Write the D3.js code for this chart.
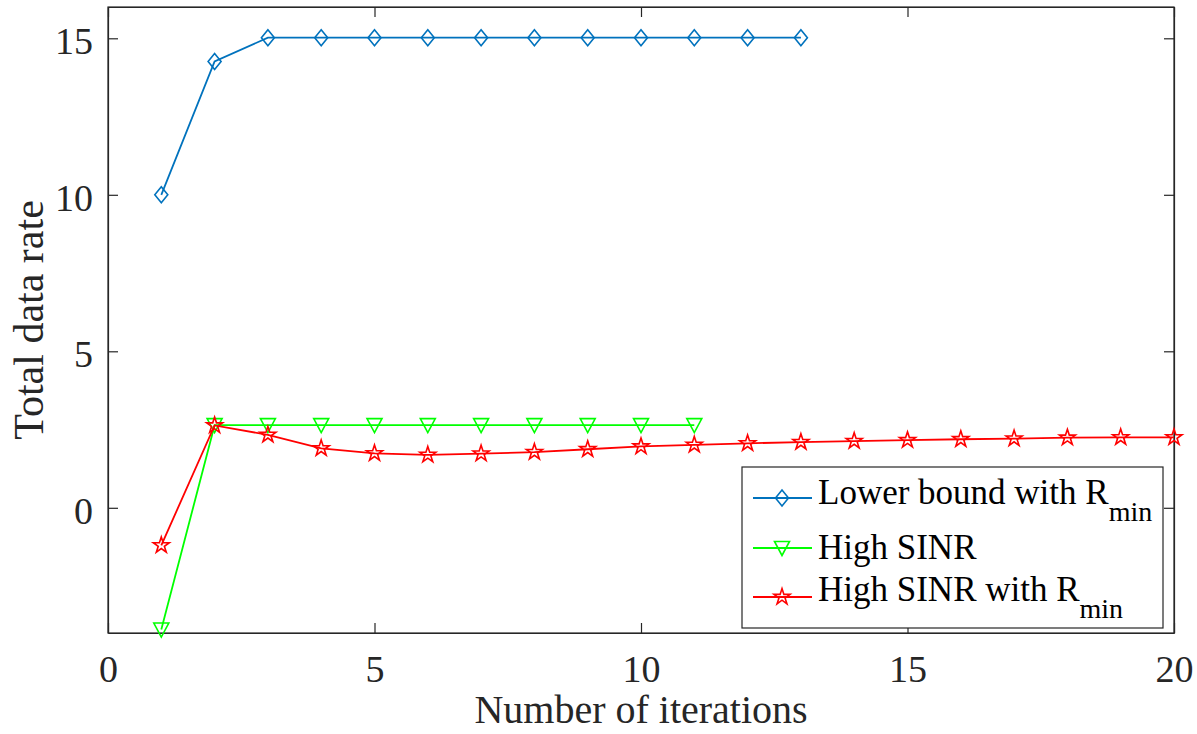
<!DOCTYPE html>
<html>
<head>
<meta charset="utf-8">
<script src="https://cdn.jsdelivr.net/npm/d3@7"></script>
<style>
  body { margin: 0; background: #fff; }
  svg { display: block; }
</style>
</head>
<body>
<div class="canvas"></div>
<script>
// data
var iterBound = [1,2,3,4,5,6,7,8,9,10,11,12,13];
var rateBound = [10.0,14.26,15.02,15.02,15.02,15.02,15.02,15.02,15.02,15.02,15.02,15.02,15.02];

var iterHigh = [1,2,3,4,5,6,7,8,9,10,11];
var rateHigh = [-3.89,2.64,2.64,2.64,2.64,2.64,2.64,2.64,2.64,2.64,2.64];

var iterHighR = [1,2,3,4,5,6,7,8,9,10,11,12,13,14,15,16,17,18,19,20];
var rateHighR = [-1.2,2.63,2.33,1.90,1.74,1.69,1.73,1.78,1.87,1.96,2.01,2.06,2.10,2.13,2.16,2.19,2.21,2.24,2.25,2.25];

var xTicks = [0,5,10,15,20];
var yTicks = [0,5,10,15];
var seriesNames = ["Lower bound with R", "High SINR", "High SINR with R"];
var seriesSubs = ["min", "", "min"];

var W = 1197, H = 734;
var pLeft = 108, pRight = 1174, pTop = 7, pBottom = 633;
var axisCol = "#262626";
var font = "'Liberation Serif', 'Times New Roman', serif";

const svg = d3.select(".canvas").append("svg")
    .attr("width", W)
    .attr("height", H);

var x = d3.scaleLinear().domain([0,20]).range([pLeft,pRight]);
var y = d3.scaleLinear().domain([-4,16]).range([pBottom,pTop]);

// custom MATLAB-ish markers
var diamond = { draw: function(ctx, size) {
    var w = 6.5, h = 8;
    ctx.moveTo(0,-h); ctx.lineTo(w,0); ctx.lineTo(0,h); ctx.lineTo(-w,0); ctx.closePath();
}};
var triDown = { draw: function(ctx, size) {
    var w = 7.5, h = 6.5;
    ctx.moveTo(-w,-h); ctx.lineTo(w,-h); ctx.lineTo(0,h+1); ctx.closePath();
}};

var series = [
  { xs: iterBound, ys: rateBound, color: "#0072BD", sym: d3.symbol().type(diamond)() },
  { xs: iterHigh, ys: rateHigh, color: "#00FF00", sym: d3.symbol().type(triDown)() },
  { xs: iterHighR, ys: rateHighR, color: "#FF0000", sym: d3.symbol().type(d3.symbolStar).size(80)() }
];

// box + ticks
svg.append("rect")
    .attr("x", pLeft).attr("y", pTop)
    .attr("width", pRight-pLeft).attr("height", pBottom-pTop)
    .attr("fill", "white").attr("stroke", axisCol).attr("stroke-width", 1.2);

var xAxis = svg.append("g")
    .attr("transform", "translate(0," + pBottom + ")")
    .call(d3.axisBottom(x).tickValues(xTicks).tickSizeInner(-10).tickSizeOuter(0).tickPadding(22));
var yAxis = svg.append("g")
    .attr("transform", "translate(" + pLeft + ",0)")
    .call(d3.axisLeft(y).tickValues(yTicks).tickSizeInner(-10).tickSizeOuter(0).tickPadding(15));
svg.append("g")
    .attr("transform", "translate(0," + pTop + ")")
    .call(d3.axisTop(x).tickValues(xTicks).tickSizeInner(-10).tickSizeOuter(0).tickFormat(""));
svg.append("g")
    .attr("transform", "translate(" + pRight + ",0)")
    .call(d3.axisRight(y).tickValues(yTicks).tickSizeInner(-10).tickSizeOuter(0).tickFormat(""));

svg.selectAll(".domain").attr("stroke", axisCol).attr("stroke-width", 1.2);
svg.selectAll(".tick line").attr("stroke", axisCol).attr("stroke-width", 1.2);
svg.selectAll(".tick text")
    .attr("fill", axisCol)
    .style("font-family", font)
    .style("font-size", "38px");
yAxis.selectAll(".tick text").attr("dy", "0.4em");

// axis titles
svg.append("text")
    .text("Number of iterations")
    .attr("x", (pLeft+pRight)/2)
    .attr("y", 723)
    .attr("text-anchor", "middle")
    .attr("fill", axisCol)
    .style("font-family", font)
    .style("font-size", "40px");

svg.append("text")
    .text("Total data rate")
    .attr("transform", "translate(43," + (pTop+pBottom)/2 + ") rotate(-90)")
    .attr("text-anchor", "middle")
    .attr("fill", axisCol)
    .style("font-family", font)
    .style("font-size", "42px");

// lines and markers
var line = d3.line().x(function(d){ return x(d[0]); }).y(function(d){ return y(d[1]); });

series.forEach(function(s) {
    var pts = s.xs.map(function(v,i){ return [v, s.ys[i]]; });
    svg.append("path")
        .datum(pts)
        .attr("d", line)
        .attr("fill", "none")
        .attr("stroke", s.color)
        .attr("stroke-width", 1.8);
    svg.selectAll(null)
        .data(pts)
        .enter().append("path")
        .attr("d", s.sym)
        .attr("transform", function(d){ return "translate(" + x(d[0]) + "," + y(d[1]) + ")"; })
        .attr("fill", "none")
        .attr("stroke", s.color)
        .attr("stroke-width", 1.6);
});

// legend
var lg = svg.append("g");
lg.append("rect")
    .attr("x", 742).attr("y", 467)
    .attr("width", 421).attr("height", 161)
    .attr("fill", "white").attr("stroke", axisCol).attr("stroke-width", 1.2);

var rowY = [498, 548, 597];
var textY = [504, 559, 601];
series.forEach(function(s, i) {
    lg.append("line")
        .attr("x1", 753).attr("x2", 812)
        .attr("y1", rowY[i]).attr("y2", rowY[i])
        .attr("stroke", s.color).attr("stroke-width", 1.8);
    lg.append("path")
        .attr("d", s.sym)
        .attr("transform", "translate(782," + rowY[i] + ")")
        .attr("fill", "none").attr("stroke", s.color).attr("stroke-width", 1.6);
    var t = lg.append("text")
        .attr("x", 818).attr("y", textY[i])
        .attr("fill", "black")
        .style("font-family", font)
        .style("font-size", "35px")
        .text(seriesNames[i]);
    if (seriesSubs[i]) {
        t.append("tspan")
            .attr("dy", 17)
            .style("font-size", "28px")
            .text(seriesSubs[i]);
    }
});
</script>
</body>
</html>
